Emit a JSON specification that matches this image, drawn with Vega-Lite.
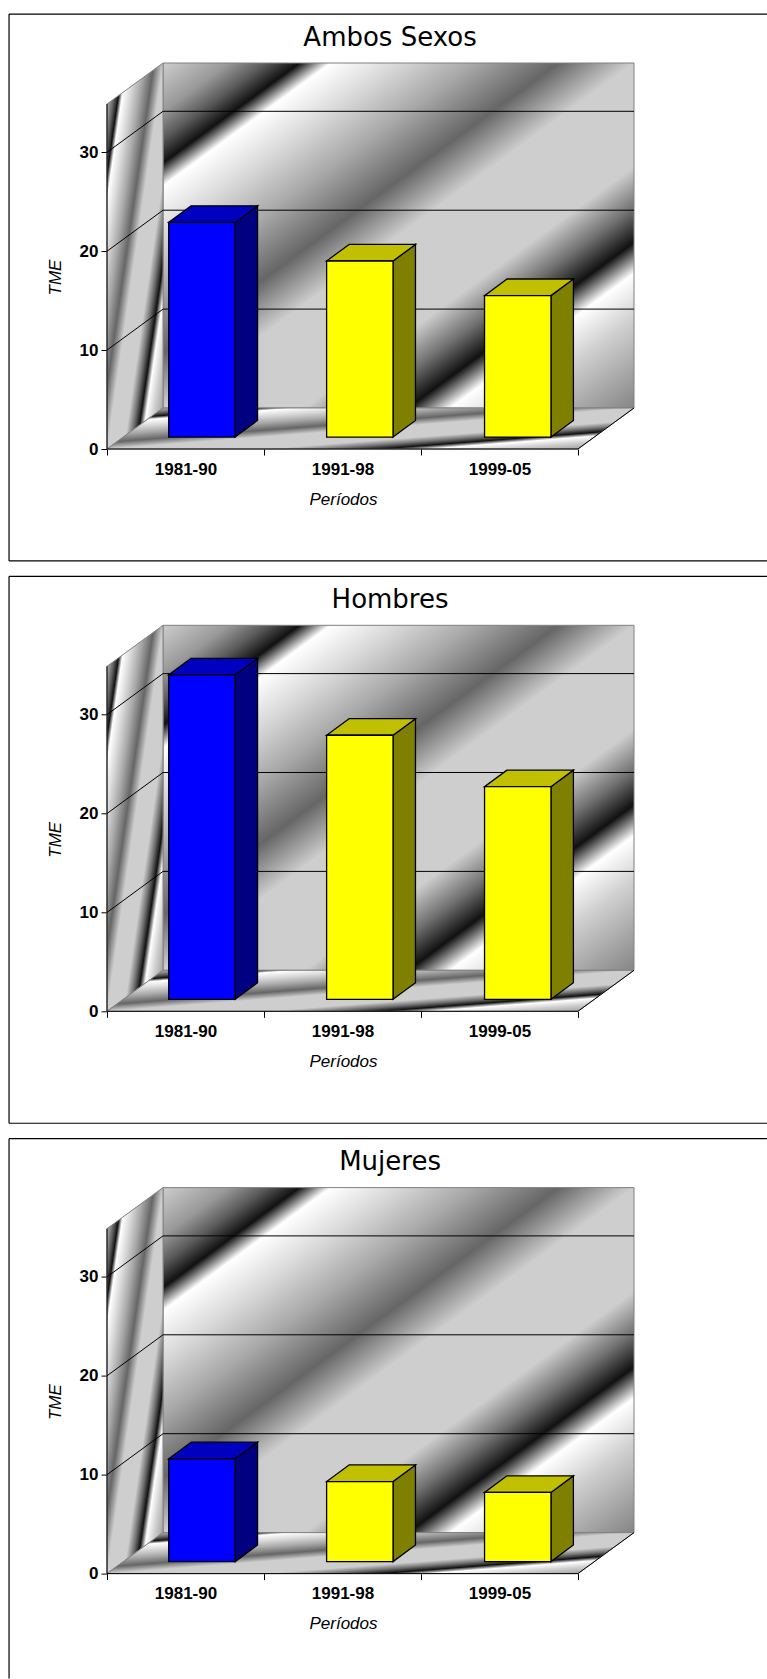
{
"$schema":"https://vega.github.io/schema/vega-lite/v6.json",
"background":"#ffffff",
"padding":{"left":8,"top":13,"right":0,"bottom":0},
"config":{"view":{"stroke":null}},
"datasets":{
"tme":[
{"panel":"Ambos Sexos","period":"1981-90","i":0,"value":21.7},
{"panel":"Ambos Sexos","period":"1991-98","i":1,"value":17.8},
{"panel":"Ambos Sexos","period":"1999-05","i":2,"value":14.3},
{"panel":"Hombres","period":"1981-90","i":0,"value":32.8},
{"panel":"Hombres","period":"1991-98","i":1,"value":26.7},
{"panel":"Hombres","period":"1999-05","i":2,"value":21.5},
{"panel":"Mujeres","period":"1981-90","i":0,"value":10.4},
{"panel":"Mujeres","period":"1991-98","i":1,"value":8.1},
{"panel":"Mujeres","period":"1999-05","i":2,"value":7.0}
],
"backWall":[{"x":0.357,"x2":3.357,"y":4.146,"y2":39.03}],
"leftWall":[{"x":0,"y":0,"y2":34.88},{"x":0.357,"y":4.146,"y2":39.03}],
"floor":[{"x":0,"x2":3,"y":0},{"x":0.357,"x2":3.357,"y":4.146}],
"grid":[
{"id":"g10","x":0,"y":10},{"id":"g10","x":0.357,"y":14.146},{"id":"g10","x":3.357,"y":14.146},
{"id":"g20","x":0,"y":20},{"id":"g20","x":0.357,"y":24.146},{"id":"g20","x":3.357,"y":24.146},
{"id":"g30","x":0,"y":30},{"id":"g30","x":0.357,"y":34.146},{"id":"g30","x":3.357,"y":34.146},
{"id":"front","x":0,"y":34.88},{"id":"front","x":0,"y":0},{"id":"front","x":3,"y":0},{"id":"front","x":3.357,"y":4.146}
]
},
"data":{"name":"tme"},
"facet":{"row":{"field":"panel","sort":["Ambos Sexos","Hombres","Mujeres"],"header":null}},
"spacing":176.3,
"bounds":"flush",
"resolve":{"axis":{"x":"independent","y":"independent"}},
"spec":{
"width":527,"height":386,
"encoding":{
"x":{"field":"x","type":"quantitative","scale":{"domain":[0,3.357],"nice":false,"zero":false},
"axis":{"domain":false,"grid":false,"values":[0,0.5,1,1.5,2,2.5,3],"labelOverlap":false,"labelFlush":false,
"labelExpr":"datum.value==0.5?'1981-90':datum.value==1.5?'1991-98':datum.value==2.5?'1999-05':''",
"tickOpacity":{"condition":{"test":"datum.value%1==0","value":1},"value":0},
"tickColor":"#000000","tickSize":6,"labelFont":"Liberation Sans","labelFontWeight":"bold","labelFontSize":17,"labelColor":"#000000","labelPadding":6,
"title":"Períodos","titleFont":"Liberation Sans","titleFontStyle":"italic","titleFontWeight":"normal","titleFontSize":17,"titleColor":"#000000","titleX":236,"titleY":42,"titleAnchor":"middle"}},
"y":{"field":"y","type":"quantitative","scale":{"domain":[0,39.03],"nice":false,"zero":false},
"axis":{"domain":false,"grid":false,"values":[0,10,20,30],"tickColor":"#000000","tickSize":6,"labelFont":"Liberation Sans","labelFontWeight":"bold","labelFontSize":17,"labelColor":"#000000","labelPadding":3,
"title":"TME","titleFont":"Liberation Sans","titleFontStyle":"italic","titleFontWeight":"normal","titleFontSize":17,"titleColor":"#000000","titleX":-43,"titleY":214,"titleAnchor":"middle"}}
},
"layer":[
{"data":{"name":"backWall"},
"mark":{"type":"rect","stroke":"#808080","strokeWidth":1,"fill":{"gradient":"linear","x1":0,"y1":0,"x2":1,"y2":1,"stops":[{"offset":0,"color":"#cdcdcd"},{"offset":0.07,"color":"#999999"},{"offset":0.11,"color":"#5a5a5a"},{"offset":0.145,"color":"#111111"},{"offset":0.178,"color":"#ffffff"},{"offset":0.25,"color":"#d8d8d8"},{"offset":0.33,"color":"#a8a8a8"},{"offset":0.42,"color":"#666666"},{"offset":0.5,"color":"#cecece"},{"offset":0.65,"color":"#cecece"},{"offset":0.71,"color":"#707070"},{"offset":0.76,"color":"#111111"},{"offset":0.805,"color":"#ffffff"},{"offset":0.87,"color":"#d0d0d0"},{"offset":1,"color":"#858585"}]}},
"encoding":{"x2":{"field":"x2"},"y2":{"field":"y2"}}},
{"data":{"name":"leftWall"},
"mark":{"type":"area","orient":"vertical","stroke":"#808080","strokeWidth":1,"fill":{"gradient":"linear","x1":0,"y1":0,"x2":1,"y2":1,"stops":[{"offset":0,"color":"#cdcdcd"},{"offset":0.07,"color":"#999999"},{"offset":0.11,"color":"#5a5a5a"},{"offset":0.145,"color":"#111111"},{"offset":0.178,"color":"#ffffff"},{"offset":0.25,"color":"#d8d8d8"},{"offset":0.33,"color":"#a8a8a8"},{"offset":0.42,"color":"#666666"},{"offset":0.5,"color":"#cecece"},{"offset":0.65,"color":"#cecece"},{"offset":0.71,"color":"#707070"},{"offset":0.76,"color":"#111111"},{"offset":0.805,"color":"#ffffff"},{"offset":0.87,"color":"#d0d0d0"},{"offset":1,"color":"#858585"}]}},
"encoding":{"y2":{"field":"y2"}}},
{"data":{"name":"floor"},
"mark":{"type":"area","orient":"horizontal","stroke":"#808080","strokeWidth":1,"fill":{"gradient":"linear","x1":0,"y1":0,"x2":1,"y2":1,"stops":[{"offset":0,"color":"#cdcdcd"},{"offset":0.07,"color":"#999999"},{"offset":0.11,"color":"#5a5a5a"},{"offset":0.145,"color":"#111111"},{"offset":0.178,"color":"#ffffff"},{"offset":0.25,"color":"#d8d8d8"},{"offset":0.33,"color":"#a8a8a8"},{"offset":0.42,"color":"#666666"},{"offset":0.5,"color":"#cecece"},{"offset":0.65,"color":"#cecece"},{"offset":0.71,"color":"#707070"},{"offset":0.76,"color":"#111111"},{"offset":0.805,"color":"#ffffff"},{"offset":0.87,"color":"#d0d0d0"},{"offset":1,"color":"#858585"}]}},
"encoding":{"x2":{"field":"x2"}}},
{"data":{"name":"grid"},
"mark":{"type":"line","stroke":"#000000","strokeWidth":1,"interpolate":"linear"},
"encoding":{"detail":{"field":"id"},"order":{"field":"none"}}},
{"transform":[
{"calculate":"[0,1]","as":"d"},{"flatten":["d"]},
{"calculate":"datum.i*1.006+0.393+0.423+datum.d*0.143","as":"x"},
{"calculate":"1.21+datum.d*1.678","as":"y"},
{"calculate":"datum.value+1.21+datum.d*1.678","as":"y2"}],
"mark":{"type":"area","orient":"vertical","stroke":"#000000","strokeWidth":1.3},
"encoding":{"detail":{"field":"period"},"y2":{"field":"y2"},
"fill":{"condition":{"test":"datum.i===0","value":"#000080"},"value":"#808000"}}},
{"transform":[
{"calculate":"[0,1]","as":"d"},{"flatten":["d"]},
{"calculate":"datum.i*1.006+0.393+datum.d*0.143","as":"x"},
{"calculate":"datum.i*1.006+0.393+0.423+datum.d*0.143","as":"x2"},
{"calculate":"datum.value+1.21+datum.d*1.678","as":"y"}],
"mark":{"type":"area","orient":"horizontal","stroke":"#000000","strokeWidth":1.3},
"encoding":{"detail":{"field":"period"},"x2":{"field":"x2"},
"fill":{"condition":{"test":"datum.i===0","value":"#0000c0"},"value":"#c0c000"}}},
{"transform":[
{"calculate":"datum.i*1.006+0.393","as":"x"},
{"calculate":"datum.i*1.006+0.393+0.423","as":"x2"},
{"calculate":"1.21","as":"y"},
{"calculate":"datum.value+1.21","as":"y2"}],
"mark":{"type":"rect","stroke":"#000000","strokeWidth":1.3},
"encoding":{"x2":{"field":"x2"},"y2":{"field":"y2"},
"fill":{"field":"period","type":"nominal","scale":{"domain":["1981-90","1991-98","1999-05"],"range":["#0000ff","#ffff00","#ffff00"]},"legend":null}}},
{"transform":[{"filter":"datum.i===0"},
{"calculate":"1.803","as":"x"},{"calculate":"41.6","as":"y"}],
"mark":{"type":"text","font":"DejaVu Sans","fontSize":26,"color":"#000000","align":"center","baseline":"middle"},
"encoding":{"text":{"field":"panel"}}},
{"transform":[{"filter":"datum.i===0"},
{"calculate":"-0.624","as":"x"},{"calculate":"4.204","as":"x2"},{"calculate":"43.98","as":"y"}],
"mark":{"type":"rule","stroke":"#000000","strokeWidth":1.2},
"encoding":{"x2":{"field":"x2"}}},
{"transform":[{"filter":"datum.i===0 && datum.panel!=='Mujeres'"},
{"calculate":"-0.624","as":"x"},{"calculate":"4.204","as":"x2"},{"calculate":"-11.32","as":"y"}],
"mark":{"type":"rule","stroke":"#000000","strokeWidth":1.2},
"encoding":{"x2":{"field":"x2"}}},
{"transform":[{"filter":"datum.i===0"},
{"calculate":"-0.624","as":"x"},{"calculate":"43.98","as":"y"},{"calculate":"datum.panel==='Mujeres'?-10.6:-11.32","as":"y2"}],
"mark":{"type":"rule","stroke":"#000000","strokeWidth":1.2},
"encoding":{"y2":{"field":"y2"}}}
]
}
}
